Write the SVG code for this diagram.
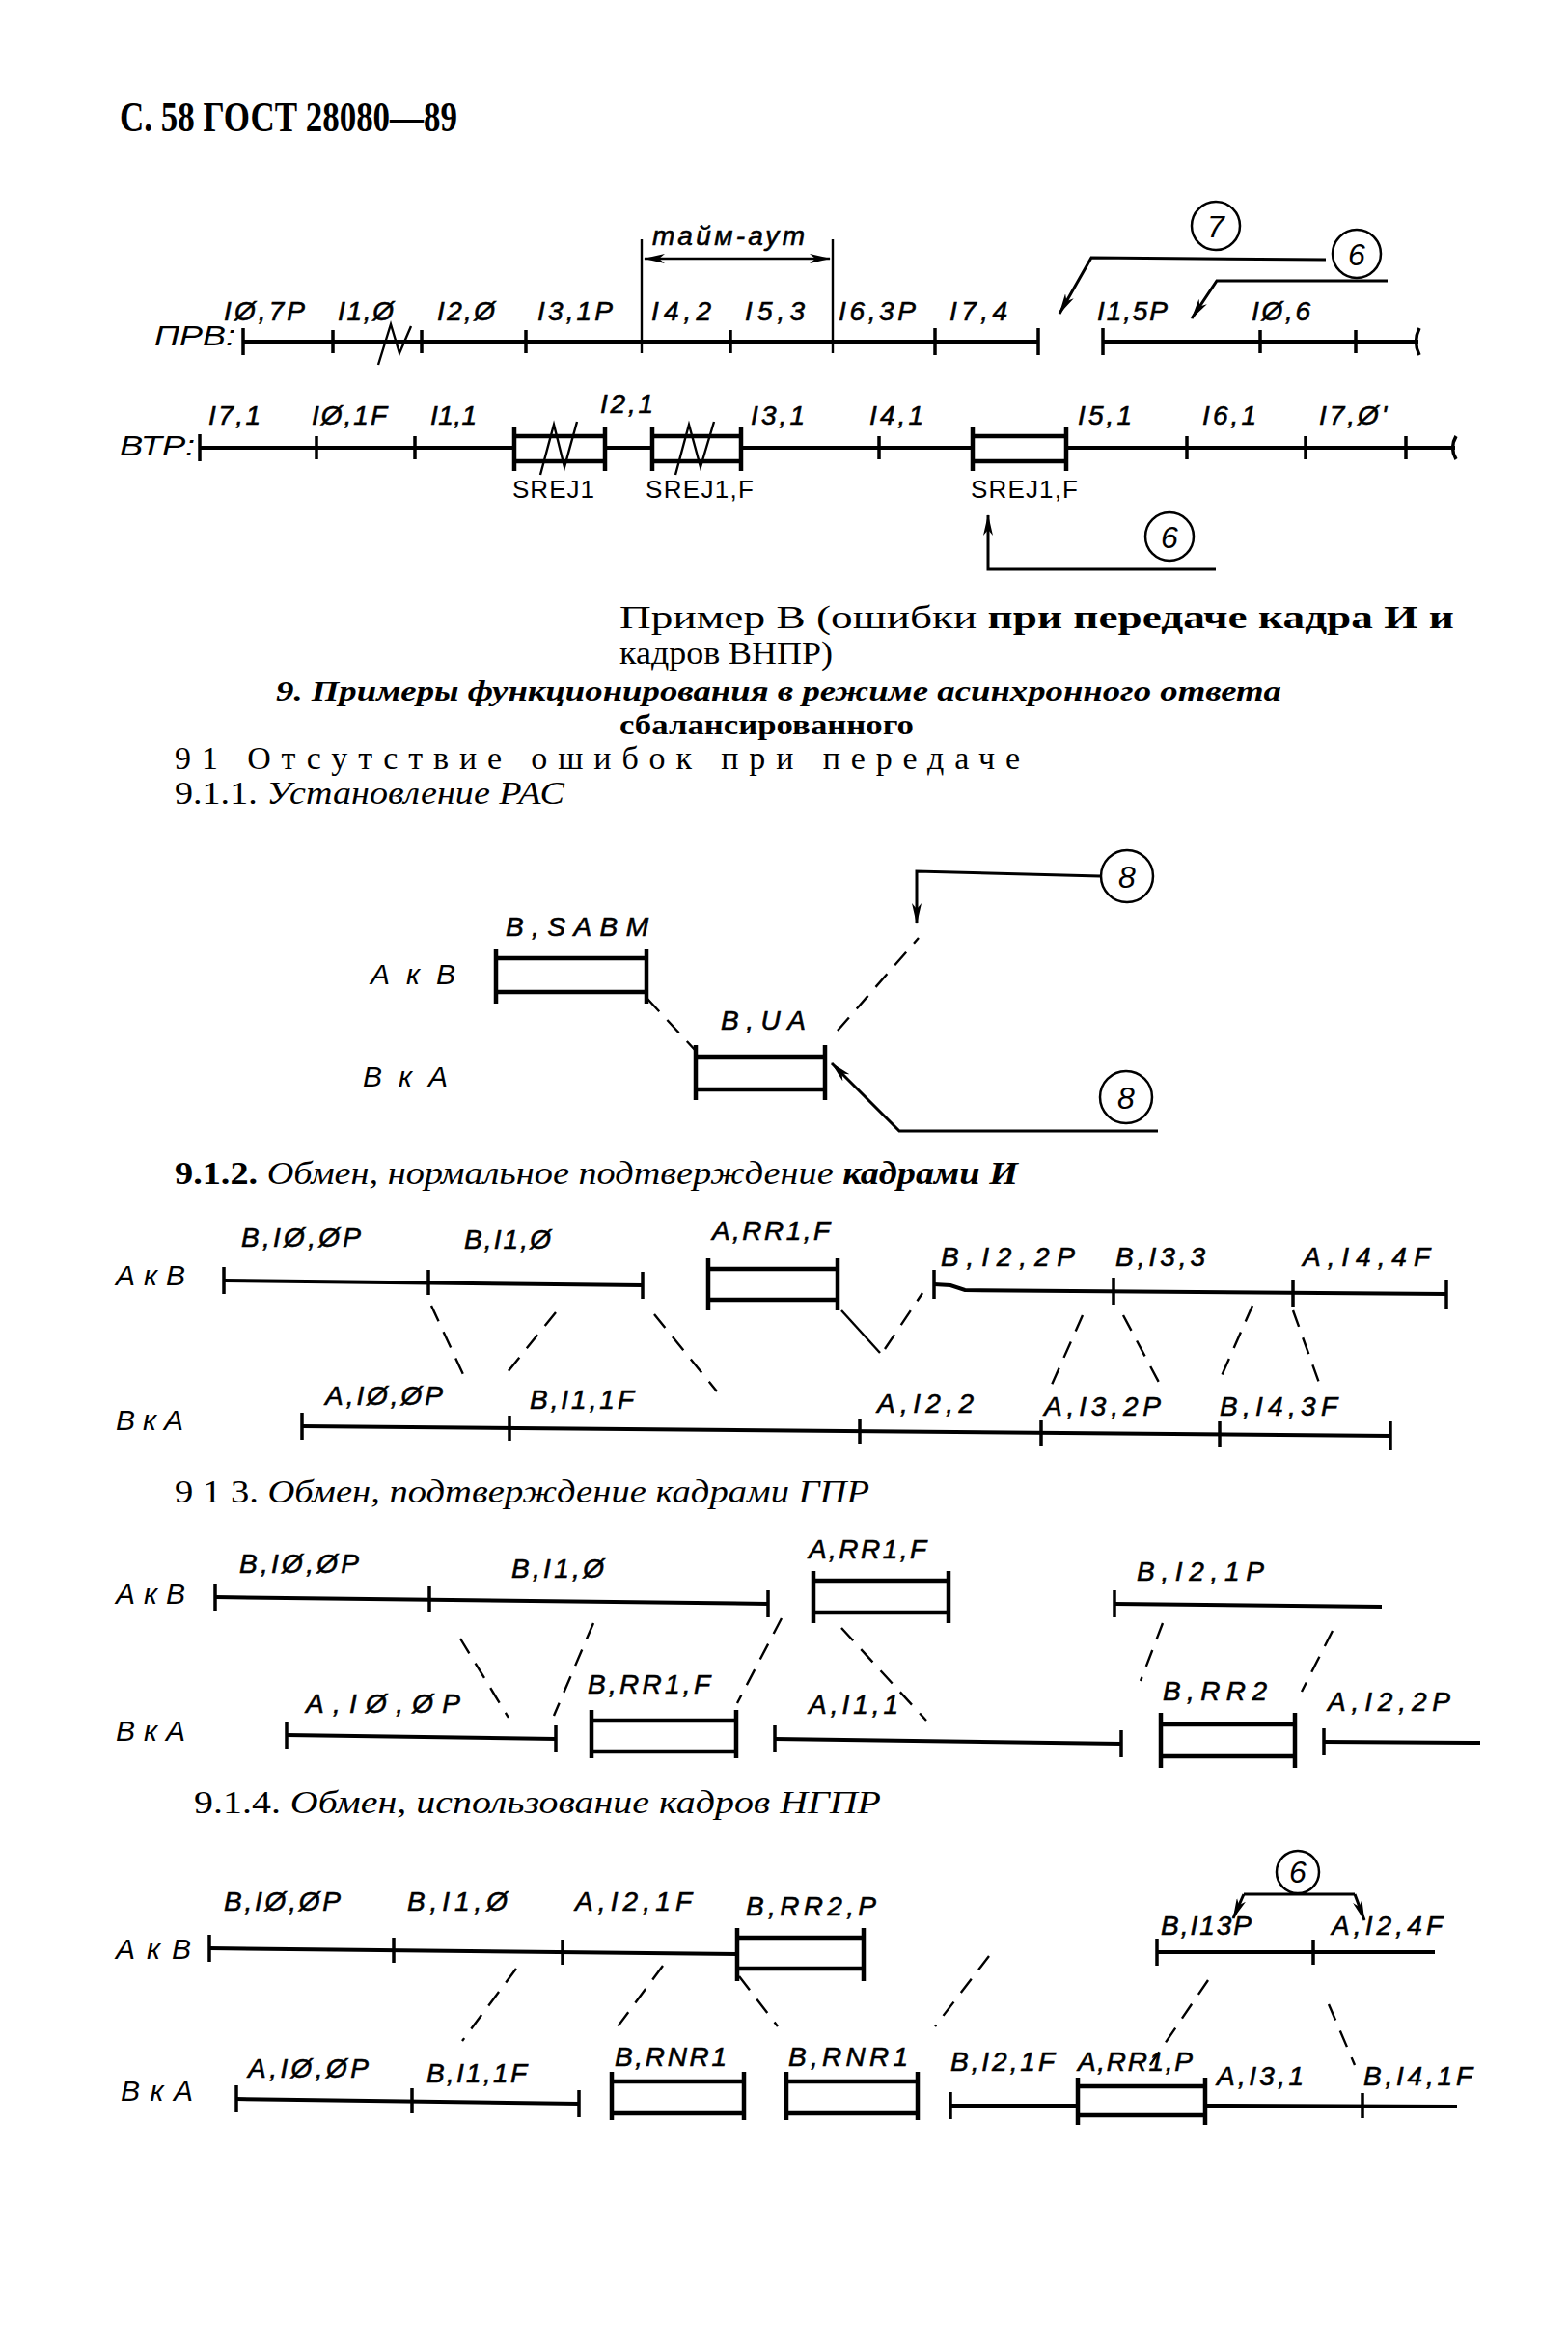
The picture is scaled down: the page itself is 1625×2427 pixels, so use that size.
<svg xmlns="http://www.w3.org/2000/svg" width="1625" height="2427" viewBox="0 0 1625 2427">
<style>
.ln{stroke:#000;stroke-width:4;fill:none}
.tk{stroke:#000;stroke-width:3.5;fill:none}
.bx{stroke:#000;stroke-width:4.5;fill:none}
.th{stroke:#000;stroke-width:2.4;fill:none}
.ds{stroke:#000;stroke-width:2.4;fill:none;stroke-dasharray:18 12}
.ar{stroke:#000;stroke-width:3;fill:none}
.cc{fill:none;stroke:#000;stroke-width:2.5}
.lb{font-family:"Liberation Sans",Arial,sans-serif;font-style:italic;font-size:28px;fill:#000;stroke:#000;stroke-width:0.6}
.lu{font-family:"Liberation Sans",Arial,sans-serif;font-size:26px;fill:#000}
.sd{font-family:"Liberation Sans",Arial,sans-serif;font-style:italic;font-size:30px;fill:#000}
.cn{font-family:"Liberation Sans",Arial,sans-serif;font-style:italic;font-size:32px;fill:#000;text-anchor:middle}
.tx{font-family:"Liberation Serif","Times New Roman",serif;fill:#000}
</style>
<defs>
<marker id="ah" viewBox="0 0 22 10" refX="21" refY="5" markerWidth="22" markerHeight="10" markerUnits="userSpaceOnUse" orient="auto-start-reverse"><path d="M0,0 L22,5 L0,10 L6,5 z" fill="#000"/></marker>
</defs>
<rect width="1625" height="2427" fill="#fff"/>

<g id="header"><text class="tx" x="124" y="136" font-size="44" font-weight="bold" textLength="350" lengthAdjust="spacingAndGlyphs">С. 58 ГОСТ 28080—89</text></g>

<!-- Example B: PRV -->
<g id="prv">
<text class="sd" x="160" y="358" font-size="32" textLength="84" lengthAdjust="spacingAndGlyphs">ПРВ:</text>
<path class="ln" d="M252,354 L1076,354 M1143,354 L1470,354"/>
<path class="tk" d="M252,340V368 M345,342V366 M437,342V366 M545,342V366 M757,342V366 M969,340V368 M1076,340V368 M1143,340V368 M1306,342V366 M1405,342V366"/>
<path class="tk" d="M1471,340 Q1464,354 1471,368"/>
<polyline class="th" points="392,378 405,336 414,366 426,338"/>
<text class="lb" x="232" y="332" textLength="84">IØ,7P</text>
<text class="lb" x="350" y="332" textLength="58">I1,Ø</text>
<text class="lb" x="453" y="332" textLength="60">I2,Ø</text>
<text class="lb" x="557" y="332" textLength="78">I3,1P</text>
<text class="lb" x="675" y="332" textLength="62">I4,2</text>
<text class="lb" x="772" y="332" textLength="62">I5,3</text>
<text class="lb" x="869" y="332" textLength="80">I6,3P</text>
<text class="lb" x="984" y="332" textLength="60">I7,4</text>
<text class="lb" x="1137" y="332" textLength="73">I1,5P</text>
<text class="lb" x="1297" y="332" textLength="61">IØ,6</text>
</g>
<g id="timeout">
<path class="th" d="M665,248V366 M863,248V366"/>
<text class="lb" x="676" y="254" font-size="24" textLength="158">тайм-аут</text>
</g>
<g id="c7"><circle class="cc" cx="1260" cy="234" r="25"/><text class="cn" x="1260" y="246">7</text></g>
<g id="c6a"><circle class="cc" cx="1406" cy="263" r="25"/><text class="cn" x="1406" y="275">6</text></g>

<!-- Example B: VTR -->
<g id="vtr">
<text class="sd" x="124" y="472" font-size="32" textLength="78" lengthAdjust="spacingAndGlyphs">ВТР:</text>
<path class="ln" d="M207,464 L533,464 M627,464 L676,464 M768,464 L1008,464 M1105,464 L1508,464"/>
<path class="tk" d="M207,450V478 M328,452V476 M430,452V476 M911,452V476 M1230,452V476 M1353,452V476 M1457,452V476"/>
<path class="tk" d="M1509,452 Q1502,464 1509,476"/>
<path class="bx" d="M533,452H627 M533,478H627 M533,443V488 M627,443V488"/>
<path class="bx" d="M676,452H768 M676,478H768 M676,443V488 M768,443V488"/>
<path class="bx" d="M1008,452H1105 M1008,478H1105 M1008,443V488 M1105,443V488"/>
<polyline class="th" points="560,492 574,440 585,484 598,437"/>
<polyline class="th" points="700,492 714,440 726,484 740,437"/>
<text class="lb" x="216" y="440" textLength="54">I7,1</text>
<text class="lb" x="323" y="440" textLength="78">IØ,1F</text>
<text class="lb" x="446" y="440" textLength="48">I1,1</text>
<text class="lb" x="622" y="428" textLength="55">I2,1</text>
<text class="lb" x="778" y="440" textLength="56">I3,1</text>
<text class="lb" x="901" y="440" textLength="56">I4,1</text>
<text class="lb" x="1117" y="440" textLength="56">I5,1</text>
<text class="lb" x="1246" y="440" textLength="56">I6,1</text>
<text class="lb" x="1367" y="440" textLength="70">I7,Ø'</text>
<text class="lu" x="531" y="516" textLength="85">SREJ1</text>
<text class="lu" x="669" y="516" textLength="112">SREJ1,F</text>
<text class="lu" x="1006" y="516" textLength="111">SREJ1,F</text>
</g>
<g id="c6b"><circle class="cc" cx="1212" cy="556" r="25"/><text class="cn" x="1212" y="568">6</text></g>

<g id="text1">
<text class="tx" x="642" y="651" font-size="33" textLength="865" lengthAdjust="spacingAndGlyphs">Пример В (ошибки <tspan font-weight="bold">при передаче кадра И и</tspan></text>
<text class="tx" x="642" y="688" font-size="33" textLength="221" lengthAdjust="spacingAndGlyphs">кадров ВНПР)</text>
<text class="tx" x="286" y="726" font-size="30" font-weight="bold" font-style="italic" textLength="1042" lengthAdjust="spacingAndGlyphs">9. Примеры функционирования в режиме асинхронного ответа</text>
<text class="tx" x="642" y="761" font-size="30" font-weight="bold" textLength="305" lengthAdjust="spacingAndGlyphs">сбалансированного</text>
<text class="tx" x="181" y="797" font-size="34" textLength="876">91 Отсутствие ошибок при передаче</text>
<text class="tx" x="181" y="833" font-size="33" textLength="404" lengthAdjust="spacingAndGlyphs">9.1.1. <tspan font-style="italic">Установление РАС</tspan></text>
</g>

<!-- 9.1.1 -->
<g id="s911">
<text class="sd" x="384" y="1020" textLength="88">АкВ</text>
<text class="sd" x="376" y="1126" textLength="88">ВкА</text>
<g id="box-sabm"><path class="bx" d="M514,993H670 M514,1028H670 M514,983V1040 M670,983V1040"/><text class="lb" x="524" y="970" textLength="148">B,SABM</text></g>
<g id="box-ua"><path class="bx" d="M721,1095H855 M721,1129H855 M721,1083V1140 M855,1083V1140"/><text class="lb" x="747" y="1067" textLength="88">B,UA</text></g>
<g id="c8a"><circle class="cc" cx="1168" cy="908" r="27"/><text class="cn" x="1168" y="920">8</text></g>
<g id="c8b"><circle class="cc" cx="1167" cy="1137" r="27"/><text class="cn" x="1167" y="1149">8</text></g>
</g>

<g id="t912"><text class="tx" x="181" y="1227" font-size="33" textLength="874" lengthAdjust="spacingAndGlyphs"><tspan font-weight="bold">9.1.2.</tspan> <tspan font-style="italic">Обмен, нормальное подтверждение </tspan><tspan font-style="italic" font-weight="bold">кадрами И</tspan></text></g>

<!-- 9.1.2 -->
<g id="s912">
<text class="sd" x="120" y="1332" textLength="72">АкВ</text>
<text class="sd" x="120" y="1482" textLength="70">ВкА</text>
<path class="ln" d="M232,1327 L666,1332"/>
<path class="tk" d="M232,1313V1341 M444,1316V1342 M666,1318V1346"/>
<path class="bx" d="M734,1315H868 M734,1347H868 M734,1304V1358 M868,1304V1358"/>
<path class="ln" d="M968,1331 L985,1332 L1000,1337 L1499,1341"/>
<path class="tk" d="M968,1316V1346 M1154,1324V1352 M1340,1326V1354 M1499,1326V1356"/>
<path class="ln" d="M313,1478 L1441,1488"/>
<path class="tk" d="M313,1464V1492 M528,1467V1493 M891,1470V1496 M1079,1472V1498 M1264,1473V1499 M1441,1473V1503"/>
<text class="lb" x="250" y="1292" textLength="124">B,IØ,ØP</text>
<text class="lb" x="481" y="1294" textLength="90">B,I1,Ø</text>
<text class="lb" x="738" y="1285" textLength="122">A,RR1,F</text>
<text class="lb" x="975" y="1312" textLength="139">B,I2,2P</text>
<text class="lb" x="1156" y="1312" textLength="93">B,I3,3</text>
<text class="lb" x="1350" y="1312" textLength="132">A,I4,4F</text>
<text class="lb" x="337" y="1456" textLength="122">A,IØ,ØP</text>
<text class="lb" x="549" y="1460" textLength="108">B,I1,1F</text>
<text class="lb" x="909" y="1464" textLength="100">A,I2,2</text>
<text class="lb" x="1082" y="1467" textLength="121">A,I3,2P</text>
<text class="lb" x="1264" y="1467" textLength="122">B,I4,3F</text>
</g>

<g id="t913"><text class="tx" x="181" y="1557" font-size="33" textLength="720" lengthAdjust="spacingAndGlyphs">9 1 3. <tspan font-style="italic">Обмен, подтверждение кадрами ГПР</tspan></text></g>

<!-- 9.1.3 -->
<g id="s913">
<text class="sd" x="120" y="1662" textLength="72">АкВ</text>
<text class="sd" x="120" y="1804" textLength="72">ВкА</text>
<path class="ln" d="M223,1655 L796,1662"/>
<path class="tk" d="M223,1641V1669 M445,1644V1670 M796,1648V1676"/>
<path class="bx" d="M843,1638H983 M843,1671H983 M843,1628V1682 M983,1628V1682"/>
<path class="ln" d="M1155,1662 L1432,1665"/>
<path class="tk" d="M1155,1648V1676"/>
<path class="ln" d="M297,1798 L576,1802"/>
<path class="tk" d="M297,1784V1812 M576,1788V1816"/>
<path class="bx" d="M613,1783H763 M613,1815H763 M613,1772V1822 M763,1772V1822"/>
<path class="ln" d="M803,1802 L1162,1807"/>
<path class="tk" d="M803,1788V1816 M1162,1793V1821"/>
<path class="bx" d="M1203,1787H1342 M1203,1820H1342 M1203,1775V1832 M1342,1775V1832"/>
<path class="ln" d="M1372,1805 L1534,1806"/>
<path class="tk" d="M1372,1791V1819"/>
<text class="lb" x="248" y="1630" textLength="124">B,IØ,ØP</text>
<text class="lb" x="530" y="1635" textLength="96">B,I1,Ø</text>
<text class="lb" x="838" y="1615" textLength="122">A,RR1,F</text>
<text class="lb" x="1178" y="1638" textLength="132">B,I2,1P</text>
<text class="lb" x="317" y="1775" textLength="160">A,IØ,ØP</text>
<text class="lb" x="609" y="1755" textLength="127">B,RR1,F</text>
<text class="lb" x="838" y="1776" textLength="93">A,I1,1</text>
<text class="lb" x="1205" y="1762" textLength="108">B,RR2</text>
<text class="lb" x="1376" y="1773" textLength="127">A,I2,2P</text>
</g>

<g id="t914"><text class="tx" x="201" y="1879" font-size="33" textLength="712" lengthAdjust="spacingAndGlyphs">9.1.4. <tspan font-style="italic">Обмен, использование кадров НГПР</tspan></text></g>

<!-- 9.1.4 -->
<g id="s914">
<text class="sd" x="120" y="2030" textLength="78">АкВ</text>
<text class="sd" x="125" y="2177" textLength="75">ВкА</text>
<path class="ln" d="M217,2019 L764,2025"/>
<path class="tk" d="M217,2005V2033 M408,2008V2034 M583,2010V2036"/>
<path class="bx" d="M764,2008H895 M764,2040H895 M764,1998V2053 M895,1998V2053"/>
<path class="ln" d="M1199,2023 L1487,2023"/>
<path class="tk" d="M1199,2009V2037 M1361,2010V2036"/>
<path class="ln" d="M245,2175 L600,2180"/>
<path class="tk" d="M245,2161V2189 M427,2164V2190 M600,2166V2194"/>
<path class="bx" d="M634,2157H771 M634,2190H771 M634,2147V2197 M771,2147V2197"/>
<path class="bx" d="M815,2157H951 M815,2190H951 M815,2147V2197 M951,2147V2197"/>
<path class="ln" d="M985,2182 L1117,2182"/>
<path class="tk" d="M985,2168V2196"/>
<path class="bx" d="M1117,2162H1249 M1117,2192H1249 M1117,2153V2202 M1249,2153V2202"/>
<path class="ln" d="M1249,2182 L1510,2183"/>
<path class="tk" d="M1412,2169V2195"/>
<text class="lb" x="232" y="1980" textLength="121">B,IØ,ØP</text>
<text class="lb" x="422" y="1980" textLength="104">B,I1,Ø</text>
<text class="lb" x="596" y="1980" textLength="121">A,I2,1F</text>
<text class="lb" x="773" y="1985" textLength="135">B,RR2,P</text>
<text class="lb" x="1203" y="2005" textLength="94">B,I13P</text>
<text class="lb" x="1380" y="2005" textLength="115">A,I2,4F</text>
<text class="lb" x="257" y="2153" textLength="125">A,IØ,ØP</text>
<text class="lb" x="442" y="2158" textLength="104">B,I1,1F</text>
<text class="lb" x="637" y="2141" textLength="116">B,RNR1</text>
<text class="lb" x="817" y="2141" textLength="124">B,RNR1</text>
<text class="lb" x="985" y="2146" textLength="108">B,I2,1F</text>
<text class="lb" x="1117" y="2146" textLength="119">A,RR1,P</text>
<text class="lb" x="1261" y="2161" textLength="90">A,I3,1</text>
<text class="lb" x="1413" y="2161" textLength="113">B,I4,1F</text>
<g id="c6c"><circle class="cc" cx="1345" cy="1940" r="22"/><text class="cn" x="1345" y="1951" font-size="28">6</text></g>
</g>

<g id="connectors">
<line class="th" x1="668" y1="268" x2="860" y2="268" marker-start="url(#ah)" marker-end="url(#ah)"/>
<polyline class="ar" points="1374,269 1131,267 1098,325" marker-end="url(#ah)"/>
<polyline class="ar" points="1438,291 1261,291 1235,330" marker-end="url(#ah)"/>
<polyline class="ar" points="1260,590 1024,590 1024,534" marker-end="url(#ah)"/>
<polyline class="ar" points="1140,908 950,903 950,957" marker-end="url(#ah)"/>
<polyline class="ar" points="1200,1172 932,1172 862,1102" marker-end="url(#ah)"/>
<path class="ds" d="M671,1035 L722,1090 M868,1068 L952,972"/>
<path class="ds" d="M447,1353 L484,1433 M576,1360 L521,1428 M678,1362 L743,1442 M917,1398 L956,1340 M1122,1363 L1090,1435 M1164,1363 L1205,1440 M1298,1353 L1265,1428 M1340,1358 L1367,1433"/>
<path class="th" d="M872,1358 L912,1402"/>
<path class="ds" d="M477,1698 L527,1780 M615,1682 L574,1778 M810,1677 L764,1765 M872,1687 L960,1783 M1205,1682 L1182,1742 M1381,1690 L1349,1753"/>
<path class="ds" d="M535,2040 L479,2115 M687,2037 L635,2107 M766,2048 L806,2100 M1025,2027 L969,2100 M1252,2052 L1192,2140 M1377,2077 L1404,2140"/>
<path class="ar" d="M1289,1963 L1404,1963"/>
<line class="ar" x1="1289" y1="1963" x2="1278" y2="1988" marker-end="url(#ah)"/>
<line class="ar" x1="1404" y1="1963" x2="1414" y2="1990" marker-end="url(#ah)"/>
</g>
</svg>
